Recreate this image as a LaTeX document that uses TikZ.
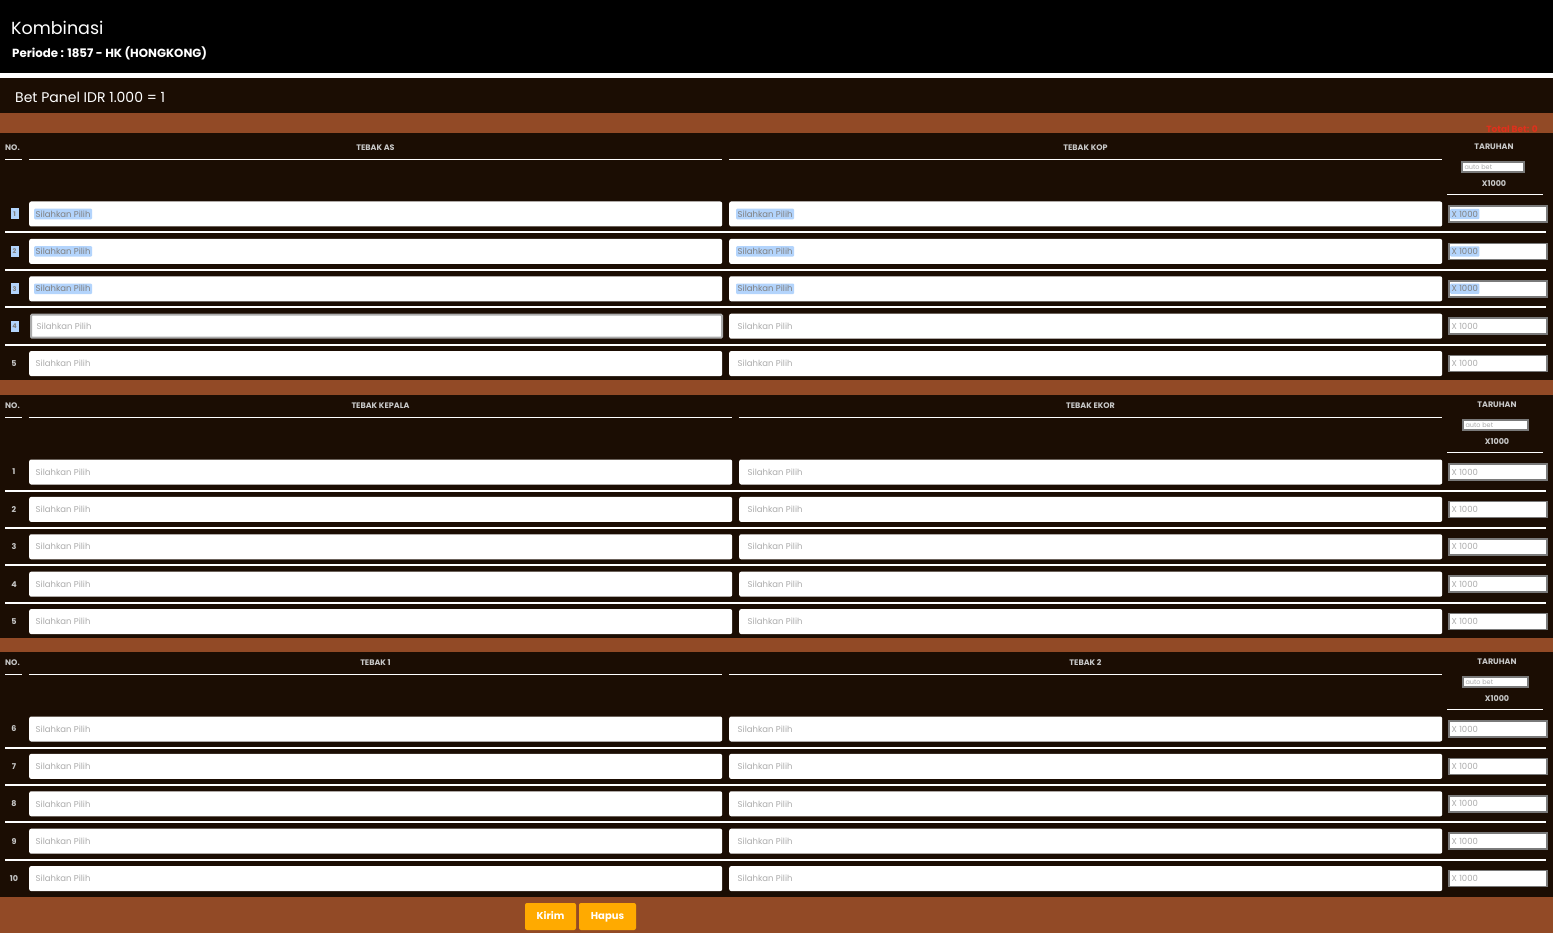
\documentclass[tikz,border=0pt]{standalone}
\usepackage{fontspec}
\setmainfont{Poppins}
\definecolor{dk}{HTML}{1B0D03}
\definecolor{band}{HTML}{924A26}
\definecolor{hl}{HTML}{B3D4FC}
\definecolor{ph}{HTML}{ABABAB}
\definecolor{hdr}{HTML}{C8C8C8}
\definecolor{bord}{HTML}{7A7A7A}
\definecolor{btn}{HTML}{FFAA00}
\definecolor{tot}{HTML}{E0301C}
\tikzset{
  field/.style={fill=white, draw=none, rounded corners=2pt, inner sep=0pt, anchor=west},
  tfield/.style={fill=white, draw=bord, line width=1.6pt, inner sep=0pt, anchor=west},
  phtext/.style={text=ph, font=\fontsize{8.5}{9}\selectfont, inner xsep=1.5pt, inner ysep=2pt, anchor=west, rounded corners=1pt},
  sel/.code={\ifnum#1=1 \pgfkeysalso{fill=hl, text=gray}\fi},
  hdrtext/.style={text=hdr, font=\fontsize{8}{9}\selectfont\bfseries, inner sep=0pt},
  sepline/.style={draw=white, line width=2pt},
  ulline/.style={draw=white, line width=1.6pt},
  btnbox/.style={fill=btn, rounded corners=2pt, text=white, font=\fontsize{10}{11}\selectfont\bfseries, inner sep=0pt, text height=7.5pt, text depth=2pt}
}
\begin{document}
\begin{tikzpicture}[x=1pt,y=-1pt]
\useasboundingbox (0,0) rectangle (1553,933);
% backgrounds
\fill[black] (0,0) rectangle (1553,73);
\fill[white] (0,73) rectangle (1553,78);
\fill[dk] (0,78) rectangle (1553,113);
\fill[band] (0,113) rectangle (1553,133);
\fill[dk] (0,133) rectangle (1553,380);
\fill[band] (0,380) rectangle (1553,395);
\fill[dk] (0,395) rectangle (1553,638);
\fill[band] (0,638) rectangle (1553,652);
\fill[dk] (0,652) rectangle (1553,897);
\fill[band] (0,897) rectangle (1553,933);
% titles
\node[anchor=west, text=white, font=\fontsize{17.5}{19}\selectfont, inner sep=0pt] (title) at (11,28) {Kombinasi};
\node[anchor=west, text=white, font=\fontsize{11.8}{13}\selectfont\bfseries, inner sep=0pt] (periode) at (12,53) {Periode : 1857 - HK (HONGKONG)};
\node[anchor=west, text=white, font=\fontsize{14}{16}\selectfont, inner sep=0pt] (betpanel) at (15,97) {Bet Panel IDR 1.000 = 1};
\node[anchor=east, text=tot, font=\fontsize{9}{10}\selectfont\bfseries, inner sep=0pt] (totalbet) at (1538,129) {Total Bet: 0};
% tables
\foreach \t/\hy/\ea/\sb/\la/\lb/\tc/\off/\ab/\aw in {1/148/722/729/TEBAK AS/TEBAK KOP/1494/0/1493/62,2/406/732/739/TEBAK KEPALA/TEBAK EKOR/1497/0/1495.5/65,3/663/722/729/TEBAK 1/TEBAK 2/1497/5/1495.5/65}{
  \node[hdrtext, anchor=west] (no\t) at (5,\hy) {NO.};
  \node[hdrtext] (ha\t) at ({(29+\ea)/2},\hy) {\la};
  \node[hdrtext] (hb\t) at ({(\sb+1442)/2},\hy) {\lb};
  \node[hdrtext] (hc\t) at (\tc,\hy-1) {TARUHAN};
  \draw[ulline] (5,\hy+11.5) -- (22,\hy+11.5);
  \draw[ulline] (29,\hy+11.5) -- (\ea,\hy+11.5);
  \draw[ulline] (\sb,\hy+11.5) -- (1442,\hy+11.5);
  \node[fill=white, draw=bord, line width=1.4pt, minimum width=\aw, minimum height=10, inner sep=0pt] (auto\t) at (\ab,\hy+19) {};
  \node[text=ph, font=\fontsize{6.5}{7}\selectfont, anchor=west, inner sep=0pt] (autot\t) at ([xshift=3pt]auto\t.west) {auto bet};
  \node[hdrtext] (x\t) at (\tc,\hy+35.5) {X1000};
  \draw[ulline] (1447,\hy+46.5) -- (1543,\hy+46.5);
  \foreach \i in {1,...,5}{
    \pgfmathsetmacro\cy{\hy+66+37.4*(\i-1)}
    \pgfmathtruncatemacro\num{\i+\off}
    \pgfmathtruncatemacro\hlf{(\t==1)&&(\i<4)}
    \pgfmathtruncatemacro\nbf{(\t==1)&&(\i<5)}
    \pgfmathtruncatemacro\brd{(\t==1)&&(\i==4)}
    \ifnum\nbf=1
      \node[fill=hl, text=gray, minimum width=8, minimum height=11, inner sep=0pt, font=\fontsize{6.5}{7}\selectfont\bfseries] (n\t\i) at (14.5,\cy) {\num};
    \else
      \node[hdrtext] (n\t\i) at (14,\cy) {\num};
    \fi
    \ifnum\brd=1
      \node[field, rounded corners=1pt, draw=ph, line width=2pt, minimum width={\ea-29-2}, minimum height=23] (fa\t\i) at (30,\cy) {};
    \else
      \node[field, minimum width={\ea-29}, minimum height=25] (fa\t\i) at (29,\cy) {};
    \fi
    \node[field, minimum width={1442-\sb}, minimum height=25] (fb\t\i) at (\sb,\cy) {};
    \node[tfield, minimum width=98, minimum height=16] (fc\t\i) at (1448,\cy) {};
    \node[phtext, sel=\hlf] (pa\t\i) at ([xshift=5pt]fa\t\i.west) {Silahkan Pilih};
    \node[phtext, sel=\hlf] (pb\t\i) at ([xshift=7pt]fb\t\i.west) {Silahkan Pilih};
    \node[phtext, sel=\hlf] (pc\t\i) at ([xshift=2pt]fc\t\i.west) {X 1000};
    \ifnum\i<5
      \draw[sepline] (5,\cy+18.5) -- (1546,\cy+18.5);
    \fi
  }
}
% buttons
\node[btnbox, minimum width=51, minimum height=27] (kirim) at (550.5,916.5) {Kirim};
\node[btnbox, minimum width=57, minimum height=27] (hapus) at (607.5,916.5) {Hapus};
\end{tikzpicture}
\end{document}
